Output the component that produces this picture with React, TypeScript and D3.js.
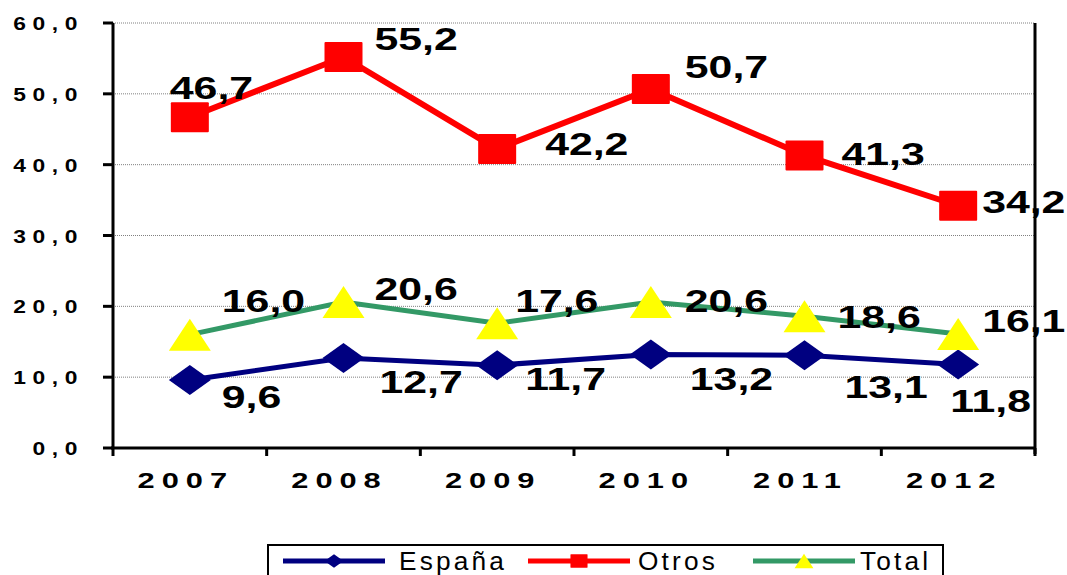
import * as d3 from "d3";

const years = ["2007", "2008", "2009", "2010", "2011", "2012"];
const espana = [9.6, 12.7, 11.7, 13.2, 13.1, 11.8];
const otros = [46.7, 55.2, 42.2, 50.7, 41.3, 34.2];
const total = [16.0, 20.6, 17.6, 20.6, 18.6, 16.1];
const yTicks = [0, 10, 20, 30, 40, 50, 60];

const W = 1067;
const H = 575;
const left = 113;
const right = 1035;
const top = 23;
const bottom = 448;

// label placement relative to the marker (start x, baseline)
const labelOffsets = {
  otros: [[-20, -18], [31, -7], [48, 6], [34, -11], [37, 10], [24, 7]],
  total: [[32, -23], [31, -2], [18, -11], [34, 10], [33, 12], [24, -2]],
  espana: [[32, 28], [36, 35], [28, 25], [39, 35], [40, 43], [-8, 48]],
};

const fmt = (v: number) => v.toFixed(1).replace(".", ",");

function Marker({ type, x, y }: { type: string; x: number; y: number }) {
  if (type === "square")
    return <rect x={x - 19} y={y - 15} width={38} height={30} rx={1} fill="#ff0000" />;
  if (type === "diamond")
    return (
      <path
        d={`M${x - 21},${y}L${x},${y - 15}L${x + 21},${y}L${x},${y + 15}Z`}
        fill="#000080"
      />
    );
  return (
    <path
      d={`M${x - 21},${y + 16}L${x},${y - 16}L${x + 21},${y + 16}Z`}
      fill="#ffff00"
    />
  );
}

export default function App() {
  const x = d3.scaleBand<string>().domain(years).range([left, right]);
  const y = d3.scaleLinear().domain([0, 60]).range([bottom, top]);
  const cx = (yr: string) => (x(yr) ?? 0) + x.bandwidth() / 2;

  const line = d3
    .line<number>()
    .x((d, i) => cx(years[i]))
    .y((d) => y(d));

  const series = [
    { key: "espana", name: "España", data: espana, color: "#000080", width: 5, marker: "diamond" },
    { key: "otros", name: "Otros", data: otros, color: "#ff0000", width: 6, marker: "square" },
    { key: "total", name: "Total", data: total, color: "#339966", width: 5, marker: "triangle" },
  ];

  const boundaries = years.map((yr) => x(yr) ?? 0).concat([right]);

  const legendItems = [
    { s: series[0], lx: 283, tx: 399 },
    { s: series[1], lx: 528, tx: 638 },
    { s: series[2], lx: 753, tx: 860 },
  ];

  return (
    <svg
      width={W}
      height={H}
      style={{ position: "absolute", left: 0, top: 0, background: "#fff" }}
      fontFamily="Arial, 'Liberation Sans', sans-serif"
    >
      {/* grid */}
      {yTicks.filter((t) => t > 0).map((t) => (
        <line
          key={t}
          x1={left}
          x2={right}
          y1={y(t)}
          y2={y(t)}
          stroke="#808080"
          strokeWidth={1}
          strokeDasharray="1,1"
        />
      ))}

      {/* axes */}
      <line x1={left} x2={left} y1={top} y2={bottom} stroke="#000" strokeWidth={3} />
      <line x1={right} x2={right} y1={top} y2={bottom + 6} stroke="#000" strokeWidth={3} />
      <line x1={left - 2} x2={right + 1} y1={bottom} y2={bottom} stroke="#000" strokeWidth={3} />
      {yTicks.map((t) => (
        <g key={t}>
          <line x1={left - 10} x2={left} y1={y(t)} y2={y(t)} stroke="#000" strokeWidth={3} />
          <text
            transform={`translate(84,${y(t) + 7}) scale(1.2,1)`}
            textAnchor="end"
            fontSize={19}
            fontWeight="bold"
            letterSpacing={5.5}
          >
            {fmt(t)}
          </text>
        </g>
      ))}
      {boundaries.map((b, i) => (
        <line key={i} x1={b} x2={b} y1={bottom} y2={bottom + 8} stroke="#000" strokeWidth={3} />
      ))}
      {years.map((yr) => (
        <text
          key={yr}
          transform={`translate(${cx(yr) - 4},${488}) scale(1.4,1)`}
          textAnchor="middle"
          fontSize={22}
          fontWeight="bold"
          letterSpacing={5}
        >
          {yr}
        </text>
      ))}

      {/* lines + markers */}
      {series.map((s) => (
        <g key={s.key}>
          <path d={line(s.data) ?? ""} fill="none" stroke={s.color} strokeWidth={s.width} />
          {s.data.map((v, i) => (
            <Marker key={i} type={s.marker} x={cx(years[i])} y={y(v)} />
          ))}
        </g>
      ))}

      {/* data labels */}
      {series.map((s) =>
        s.data.map((v, i) => {
          const [dx, dy] = (labelOffsets as any)[s.key][i];
          return (
            <text
              key={s.key + i}
              transform={`translate(${cx(years[i]) + dx},${y(v) + dy}) scale(1.38,1)`}
              fontSize={31}
              fontWeight="bold"
            >
              {fmt(v)}
            </text>
          );
        })
      )}

      {/* legend */}
      <rect x={268} y={545} width={675} height={40} fill="#fff" stroke="#000" strokeWidth={2} />
      {legendItems.map(({ s, lx, tx }) => (
        <g key={s.key}>
          <line x1={lx} x2={lx + 102} y1={561} y2={561} stroke={s.color} strokeWidth={5} />
          <g transform={`translate(${lx + 51},561) scale(0.45)`}>
            <Marker type={s.marker} x={0} y={0} />
          </g>
          <text
            transform={`translate(${tx},570) scale(1.05,1)`}
            fontSize={25}
            letterSpacing={3}
          >
            {s.name}
          </text>
        </g>
      ))}
    </svg>
  );
}
